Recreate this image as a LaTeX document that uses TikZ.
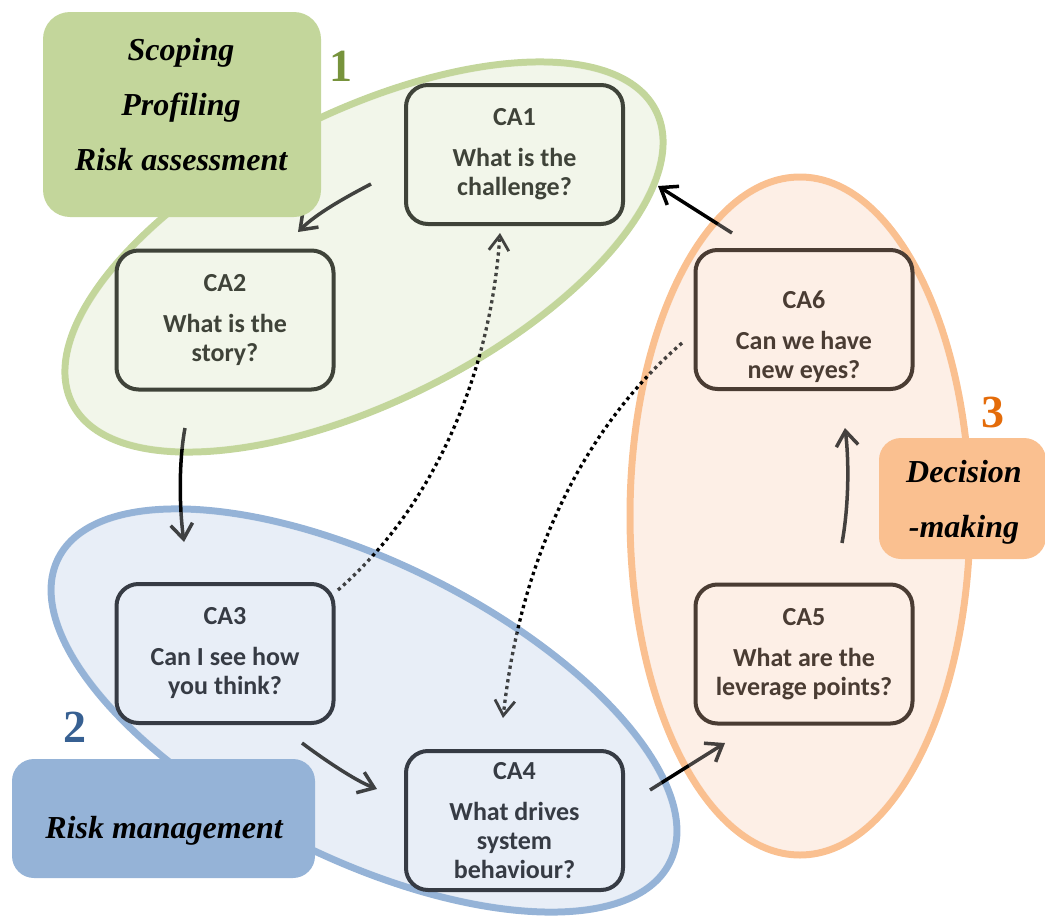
\documentclass[tikz,border=0pt]{standalone}
\usepackage{fontspec}
\usetikzlibrary{arrows.meta}
\newfontfamily\cafont{Carlito}
\newfontfamily\tagfont{Liberation Serif}

% stage colours: light fill, outline, dark ink, stage number
\definecolor{gfill}{HTML}{F2F6EA}
\definecolor{gline}{HTML}{C3D69B}
\definecolor{gdark}{HTML}{3F4339}
\definecolor{gnum}{HTML}{77933C}
\definecolor{bfill}{HTML}{E8EEF7}
\definecolor{bline}{HTML}{95B3D7}
\definecolor{bdark}{HTML}{363B44}
\definecolor{bnum}{HTML}{376092}
\definecolor{ofill}{HTML}{FDEFE6}
\definecolor{oline}{HTML}{FAC090}
\definecolor{odark}{HTML}{4A3C33}
\definecolor{onum}{HTML}{E46C0A}

\tikzset{
  catext/.style={align=center, font=\cafont\bfseries\fontsize{26}{29}\selectfont},
  cabox/.style={catext, draw, line width=4pt, rounded corners=22pt,
                minimum width=217pt, minimum height=139pt, inner sep=0pt},
  tagbox/.style={inner sep=0pt},
  tagtext/.style={align=center, text=black,
                  font=\tagfont\bfseries\itshape\fontsize{32}{55}\selectfont},
  stagenum/.style={font=\tagfont\bfseries\fontsize{46}{46}\selectfont, anchor=base},
  flow/.style={line width=3.5pt, -{Straight Barb[length=15pt,width=22pt]}},
  link/.style={line width=3.3pt, dash pattern=on 3.3pt off 3.6pt,
               -{Straight Barb[length=15pt,width=20pt,line width=2.8pt]}},
  zone/.style={line width=7pt},
  tint/.style={fill opacity=0.27},
}

\begin{document}
\begin{tikzpicture}[x=1pt, y=-1pt]
\useasboundingbox (0,0) rectangle (1045,921);

% the three stage zones
\path[fill=gfill, draw=gline, zone, rotate around={26.6:(364,257)}]
  (364,257) ellipse [x radius=326.5pt, y radius=144.4pt];
\path[fill=bfill, draw=bline, zone, rotate around={-26.4:(364,710.5)}]
  (364,710.5) ellipse [x radius=341.5pt, y radius=148pt];
\path[fill=ofill, draw=oline, zone]
  (800,516) ellipse [x radius=170pt, y radius=339pt];

% connector ends
\coordinate (f12a) at (371,184); \coordinate (f12b) at (298,232);
\coordinate (f23a) at (185,428); \coordinate (f23b) at (184,542);
\coordinate (f34a) at (302,743); \coordinate (f34b) at (377,789);
\coordinate (f45a) at (650,790); \coordinate (f45b) at (725,743);
\coordinate (f56a) at (842,543); \coordinate (f56b) at (845,428);
\coordinate (f61a) at (732,233); \coordinate (f61b) at (658,186);
\coordinate (l31a) at (338,590); \coordinate (l31b) at (500,233);
\coordinate (l64a) at (682,343); \coordinate (l64b) at (503,718);

% main cycle
\draw[flow] (f12a) .. controls (344,198) and (316,214) .. (f12b);
\draw[flow] (f23a) .. controls (179,460) and (179,505) .. (f23b);
\draw[flow] (f34a) .. controls (322,758) and (354,780) .. (f34b);
\draw[flow] (f45a) -- (f45b);
\draw[flow] (f56a) .. controls (849,505) and (849,460) .. (f56b);
\draw[flow] (f61a) -- (f61b);
% cross links
\draw[link] (l31a) .. controls (430,510) and (490,380) .. (l31b);
\draw[link] (l64a) .. controls (610,405) and (525,520) .. (l64b);

% zone tint over the connectors
\fill[gfill, tint, rotate around={26.6:(364,257)}]
  (364,257) ellipse [x radius=323pt, y radius=141pt];
\fill[bfill, tint, rotate around={-26.4:(364,710.5)}]
  (364,710.5) ellipse [x radius=338pt, y radius=144.5pt];
\fill[ofill, tint] (800,516) ellipse [x radius=166.5pt, y radius=335.5pt];

% steps
\node[cabox, draw=gdark, fill=gfill, text=gdark] (ca1) at (514.5,154.5)
  {CA1\\[12pt]What is the\\challenge?};
\node[cabox, draw=gdark, fill=gfill, text=gdark] (ca2) at (225,320)
  {CA2\\[12pt]What is the\\story?};
\node[cabox, draw=bdark, fill=bfill, text=bdark] (ca3) at (225,653.5)
  {CA3\\[12pt]Can I see how\\you think?};
\node[cabox, draw=bdark, fill=bfill, text=bdark] (ca4) at (514.5,820.5)
  {CA4\\[12pt]What drives\\system\\behaviour?};
\node[cabox, draw=odark, fill=ofill, text=odark] (ca5) at (804,654)
  {CA5\\[12pt]What are the\\leverage points?};
\node[cabox, draw=odark, fill=ofill] (ca6) at (804,319.5) {};
\node[catext, text=odark] (ca6txt) at (804,336.5)
  {CA6\\[12pt]Can we have\\new eyes?};

% stage labels
\node[tagbox, fill=gline, rounded corners=27pt, minimum width=278pt, minimum height=205pt]
  (scopebox) at (182,114.5) {};
\node[tagtext] (scopetxt) at (181,104.5) {Scoping\\Profiling\\Risk assessment};
\node[tagbox, fill=bline, rounded corners=22pt, minimum width=303pt, minimum height=119pt]
  (riskbox) at (163.5,818.5) {};
\node[tagtext, anchor=base] (risktxt) at (164,838) {Risk management};
\node[tagbox, fill=oline, rounded corners=22pt, minimum width=167pt, minimum height=121pt]
  (decbox) at (962.5,498.5) {};
\node[tagtext] (dectxt) at (964,502) {Decision\\-making};

\node[stagenum, text=gnum] (num1) at (341,81) {1};
\node[stagenum, text=bnum] (num2) at (75,742) {2};
\node[stagenum, text=onum] (num3) at (993,427) {3};
\end{tikzpicture}
\end{document}
